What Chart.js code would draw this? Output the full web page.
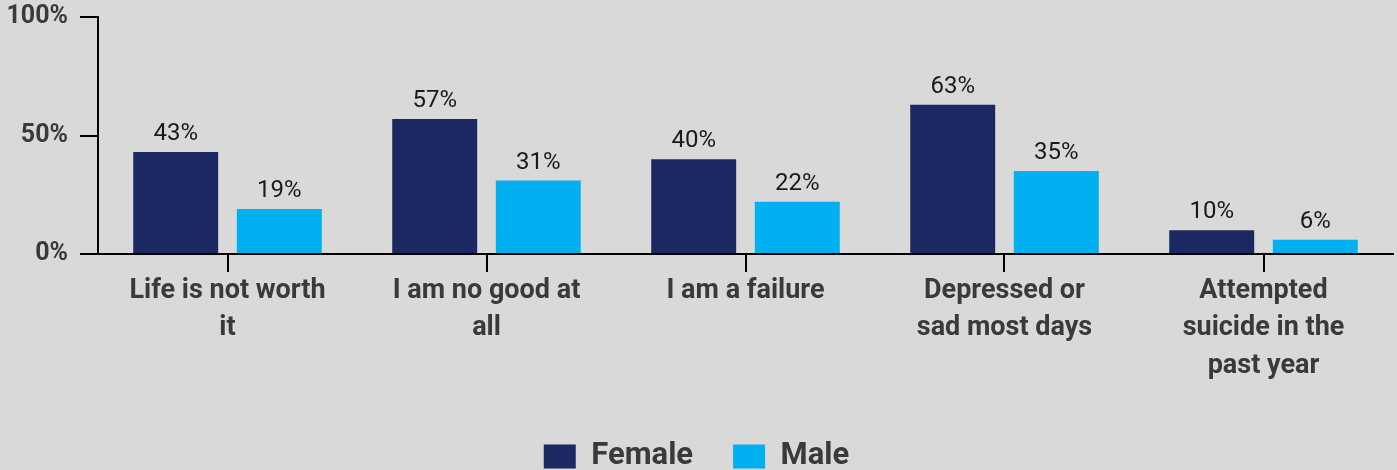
<!DOCTYPE html>
<html>
<head>
<meta charset="utf-8">
<script src="https://cdn.jsdelivr.net/npm/chart.js@4/dist/chart.umd.min.js"></script>
<style>
  html, body { margin: 0; padding: 0; background: #d9d9d9; }
  #wrap { width: 1397px; height: 470px; }
</style>
</head>
<body>
<div id="wrap"><canvas id="myChart"></canvas></div>
<script>
// chart data
var categories = [
  ["Life is not worth", "it"],
  ["I am no good at", "all"],
  ["I am a failure"],
  ["Depressed or", "sad most days"],
  ["Attempted", "suicide in the", "past year"]
];
var female = [43, 57, 40, 63, 10];
var male = [19, 31, 22, 35, 6];
var yTicks = [0, 50, 100];

var FONT = "Roboto, sans-serif";

// value labels above bars
var valueLabels = {
  id: 'valueLabels',
  afterDatasetsDraw: function (chart) {
    var ctx = chart.ctx;
    ctx.save();
    ctx.font = "24px " + FONT;
    ctx.fillStyle = "#1a1a1a";
    ctx.textAlign = "center";
    ctx.textBaseline = "bottom";
    chart.data.datasets.forEach(function (ds, i) {
      chart.getDatasetMeta(i).data.forEach(function (bar, j) {
        ctx.fillText(ds.data[j] + "%", bar.x, bar.y - 6);
      });
    });
    ctx.restore();
  }
};

var ctx = document.getElementById("myChart").getContext("2d");
var myChart = new Chart(ctx, {
  type: "bar",
  data: {
    labels: categories,
    datasets: [{
      label: "Female",
      data: female,
      backgroundColor: "#1c2862"
    }, {
      label: "Male",
      data: male,
      backgroundColor: "#00b0f0"
    }]
  },
  options: {
    responsive: true,
    maintainAspectRatio: false,
    animation: false,
    categoryPercentage: 0.8,
    barPercentage: 0.82,
    layout: { padding: { top: 17, right: 4, left: 0, bottom: -12 } },
    plugins: {
      legend: {
        position: "bottom",
        labels: {
          boxWidth: 32,
          boxHeight: 24,
          padding: 40,
          color: "#3a3a3a",
          font: { family: FONT, size: 31, weight: "bold" }
        }
      },
      tooltip: { enabled: false }
    },
    scales: {
      x: {
        grid: { offset: false, drawOnChartArea: false, drawTicks: true, tickLength: 18, color: "#000", lineWidth: 2 },
        border: { color: "#000", width: 2 },
        ticks: {
          color: "#3a3a3a",
          padding: 0,
          maxRotation: 0,
          autoSkip: false,
          font: { family: FONT, size: 27, weight: "bold", lineHeight: 1.4 }
        },
        afterFit: function (axis) { axis.height = 147; }
      },
      y: {
        min: 0,
        max: 100,
        afterBuildTicks: function (axis) {
          axis.ticks = yTicks.map(function (v) { return { value: v }; });
        },
        grid: { drawOnChartArea: false, drawTicks: true, tickLength: 18, color: "#000", lineWidth: 2 },
        border: { color: "#000", width: 2 },
        ticks: {
          color: "#3a3a3a",
          padding: 12,
          font: { family: FONT, size: 25, weight: "bold" },
          callback: function (v) { return v + "%"; }
        },
        afterFit: function (axis) {
          axis.width = 98;
          axis.paddingTop = 0;
          axis.paddingBottom = 0;
        }
      }
    }
  },
  plugins: [valueLabels]
});
</script>
</body>
</html>
